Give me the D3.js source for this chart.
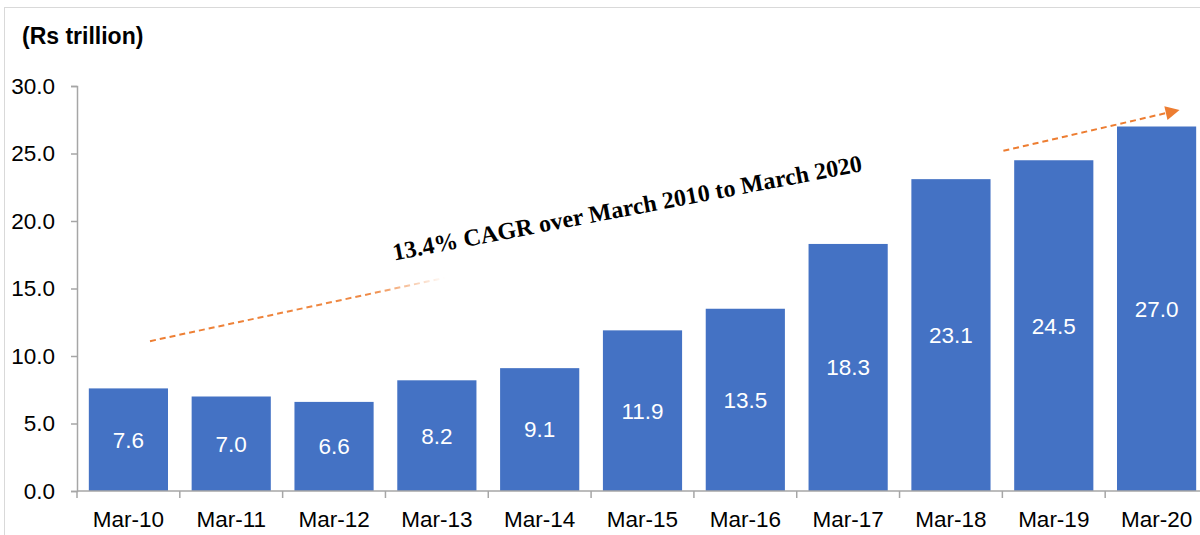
<!DOCTYPE html>
<html>
<head>
<meta charset="utf-8">
<script src="https://cdn.jsdelivr.net/npm/d3@7"></script>
<style>
  body { margin: 0; background: #fff; }
  svg { display: block; font-family: "Liberation Sans", Arial, sans-serif; }
</style>
</head>
<body>
<div id="chart"></div>
<script>
// data
const categories = ["Mar-10", "Mar-11", "Mar-12", "Mar-13", "Mar-14", "Mar-15", "Mar-16", "Mar-17", "Mar-18", "Mar-19", "Mar-20"];
const values = [7.6, 7.0, 6.6, 8.2, 9.1, 11.9, 13.5, 18.3, 23.1, 24.5, 27.0];
const yTicks = [0, 5, 10, 15, 20, 25, 30];
// trend annotation, in category-slot / value units
const trendLow = [[0.71, 11.1], [3.58, 15.8]];
const trendHigh = [[9.01, 25.2], [10.71, 28.2]];
const cagrText = "13.4% CAGR over March 2010 to March 2020";

const W = 1200, H = 535;
const margin = {top: 86, right: -8, bottom: 44, left: 77};
const innerW = W - margin.left - margin.right;
const innerH = H - margin.top - margin.bottom;

const svg = d3.select("#chart").append("svg")
    .attr("width", W)
    .attr("height", H);

// outer frame
svg.append("rect")
    .attr("x", 4.5).attr("y", 7.5)
    .attr("width", W + 10).attr("height", H + 10)
    .attr("fill", "none")
    .attr("stroke", "#d9d9d9");

svg.append("text")
    .attr("x", 22).attr("y", 44)
    .attr("font-size", 23).attr("font-weight", "bold")
    .attr("fill", "#000")
    .text("(Rs trillion)");

const g = svg.append("g")
    .attr("transform", "translate(" + margin.left + "," + margin.top + ")");

const x = d3.scaleBand().domain(categories).range([0, innerW]).paddingInner(0.23).paddingOuter(0.115);
const y = d3.scaleLinear().domain([0, 30]).range([innerH, 0]);
const xi = d3.scaleLinear().domain([0, categories.length]).range([0, innerW]);

// bars
g.selectAll(".bar")
    .data(values)
    .enter().append("rect")
    .attr("class", "bar")
    .attr("x", (d, i) => x(categories[i]))
    .attr("y", d => y(d))
    .attr("width", x.bandwidth())
    .attr("height", d => y(0) - y(d))
    .attr("fill", "#4472c4");

// value labels
g.selectAll(".val")
    .data(values)
    .enter().append("text")
    .attr("class", "val")
    .attr("x", (d, i) => x(categories[i]) + x.bandwidth() / 2)
    .attr("y", d => (y(d) + y(0)) / 2)
    .attr("dy", "0.35em")
    .attr("text-anchor", "middle")
    .attr("font-size", 22.5)
    .attr("fill", "#fff")
    .text(d => d.toFixed(1));

// y axis
const yAxis = g.append("g")
    .call(d3.axisLeft(y).tickValues(yTicks).tickFormat(d3.format(".1f")).tickSize(6).tickPadding(16));
yAxis.select(".domain").attr("stroke", "#a6a6a6").attr("stroke-width", 1.5);
yAxis.selectAll(".tick line").attr("stroke", "#a6a6a6").attr("stroke-width", 1.5);
yAxis.selectAll(".tick text").attr("font-size", 22.5).attr("fill", "#000")
    .attr("font-family", "Liberation Sans, Arial, sans-serif");

// x axis: ticks on category boundaries
const xAxisG = g.append("g").attr("transform", "translate(0," + innerH + ")");
xAxisG.append("line")
    .attr("x1", 0).attr("x2", innerW)
    .attr("stroke", "#a6a6a6").attr("stroke-width", 1.5);
xAxisG.selectAll(".xtick")
    .data(d3.range(categories.length + 1))
    .enter().append("line")
    .attr("x1", d => xi(d)).attr("x2", d => xi(d))
    .attr("y1", 0).attr("y2", 7)
    .attr("stroke", "#a6a6a6").attr("stroke-width", 1.5);
xAxisG.selectAll(".xlab")
    .data(categories)
    .enter().append("text")
    .attr("x", d => x(d) + x.bandwidth() / 2)
    .attr("y", 36)
    .attr("text-anchor", "middle")
    .attr("font-size", 22.5)
    .attr("fill", "#000")
    .text(d => d);

// trend annotation
const px = p => [xi(p[0]), y(p[1])];
const defs = svg.append("defs");
const a = px(trendLow[0]), b = px(trendLow[1]);
const grad = defs.append("linearGradient")
    .attr("id", "fade")
    .attr("gradientUnits", "userSpaceOnUse")
    .attr("x1", a[0]).attr("y1", a[1]).attr("x2", b[0]).attr("y2", b[1]);
grad.append("stop").attr("offset", "0%").attr("stop-color", "#ed7d31").attr("stop-opacity", 1);
grad.append("stop").attr("offset", "75%").attr("stop-color", "#ed7d31").attr("stop-opacity", 0.9);
grad.append("stop").attr("offset", "100%").attr("stop-color", "#ed7d31").attr("stop-opacity", 0);

defs.append("marker")
    .attr("id", "arrow")
    .attr("viewBox", "0 0 10 10")
    .attr("refX", 9).attr("refY", 5)
    .attr("markerWidth", 8).attr("markerHeight", 7)
    .attr("markerUnits", "strokeWidth")
    .attr("orient", "auto")
    .append("path")
    .attr("d", "M0,0L10,5L0,10Z")
    .attr("fill", "#ed7d31");

g.append("line")
    .attr("x1", a[0]).attr("y1", a[1]).attr("x2", b[0]).attr("y2", b[1])
    .attr("stroke", "url(#fade)")
    .attr("stroke-width", 2)
    .attr("stroke-dasharray", "6,4");

const c = px(trendHigh[0]), e = px(trendHigh[1]);
g.append("line")
    .attr("x1", c[0]).attr("y1", c[1]).attr("x2", e[0]).attr("y2", e[1])
    .attr("stroke", "#ed7d31")
    .attr("stroke-width", 2)
    .attr("stroke-dasharray", "6,4")
    .attr("marker-end", "url(#arrow)");

// CAGR label
const tc = px([5.35, 21.0]);
g.append("text")
    .attr("transform", "translate(" + tc[0] + "," + tc[1] + ") rotate(-10.8)")
    .attr("text-anchor", "middle")
    .attr("dy", "0.35em")
    .attr("font-family", "Liberation Serif, Times New Roman, serif")
    .attr("font-weight", "bold")
    .attr("font-size", 24)
    .attr("fill", "#000")
    .text(cagrText);
</script>
</body>
</html>
